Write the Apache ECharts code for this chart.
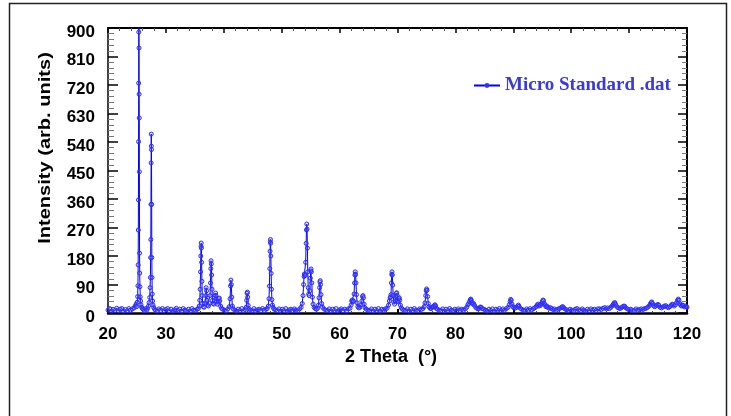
<!DOCTYPE html>
<html>
<head>
<meta charset="utf-8">
<script src="https://cdn.jsdelivr.net/npm/echarts@6/dist/echarts.min.js"></script>
<style>html,body{margin:0;padding:0;background:#fff;}#c{width:731px;height:416px;}</style>
</head>
<body>
<div id="c"></div>
<script>
// [2theta, intensity] pairs, split by range
var seg20_30 = [[20.0,9],[20.3,14],[20.6,6],[20.9,11],[21.2,8],[21.5,15],[21.8,7],[22.1,12],[22.4,14],[22.7,6],[23.0,11],[23.3,7],[23.6,14],[23.9,9],[24.2,13],[24.5,16],[24.7,22],[24.85,28],[24.95,20],[25.05,34],[25.12,52],[25.17,86],[25.21,152],[25.24,262],[25.26,357],[25.28,541],[25.3,726],[25.32,887],[25.34,910],[25.36,837],[25.38,691],[25.4,616],[25.42,446],[25.45,189],[25.48,126],[25.52,83],[25.57,51],[25.63,38],[25.7,26],[25.8,18],[25.95,14],[26.1,11],[26.3,7],[26.5,14],[26.7,9],[26.85,15],[27.0,22],[27.1,33],[27.2,49],[27.27,80],[27.32,112],[27.36,175],[27.39,232],[27.42,343],[27.45,474],[27.47,565],[27.49,527],[27.51,516],[27.54,343],[27.57,175],[27.6,112],[27.64,60],[27.7,38],[27.78,25],[27.9,17],[28.05,12],[28.2,9],[28.5,6],[28.8,13],[29.1,8],[29.4,14],[29.7,7],[30.0,11]];
var seg30_45 = [[30.3,14],[30.6,7],[30.9,12],[31.2,6],[31.5,10],[31.8,15],[32.1,8],[32.4,12],[32.7,6],[33.0,14],[33.3,9],[33.6,7],[33.9,12],[34.2,6],[34.5,14],[34.8,9],[35.1,8],[35.4,12],[35.6,14],[35.75,22],[35.85,40],[35.92,75],[35.98,130],[36.03,180],[36.07,210],[36.1,221],[36.13,205],[36.17,160],[36.22,100],[36.28,55],[36.35,30],[36.45,20],[36.6,18],[36.75,30],[36.88,55],[36.95,80],[37.02,70],[37.1,40],[37.2,25],[37.35,22],[37.5,30],[37.62,55],[37.7,95],[37.76,140],[37.8,165],[37.84,155],[37.9,120],[37.96,75],[38.05,40],[38.15,30],[38.3,28],[38.42,38],[38.52,55],[38.58,63],[38.65,55],[38.75,35],[38.9,28],[39.05,35],[39.15,45],[39.22,47],[39.3,38],[39.45,22],[39.6,15],[39.8,12],[40.1,9],[40.4,6],[40.7,13],[40.95,20],[41.08,45],[41.17,85],[41.23,104],[41.3,90],[41.38,50],[41.48,22],[41.6,13],[41.9,9],[42.2,6],[42.5,12],[42.8,8],[43.1,14],[43.4,7],[43.7,11],[43.85,18],[43.95,40],[44.02,62],[44.07,66],[44.13,50],[44.22,24],[44.35,13],[44.6,9],[44.9,7]];
var seg45_60 = [[45.2,14],[45.5,6],[45.8,10],[46.1,12],[46.4,7],[46.7,14],[47.0,8],[47.3,12],[47.5,14],[47.68,22],[47.8,45],[47.88,85],[47.94,140],[47.99,195],[48.03,225],[48.06,232],[48.09,220],[48.13,180],[48.18,125],[48.24,75],[48.31,42],[48.4,25],[48.5,18],[48.65,13],[48.9,10],[49.2,7],[49.5,13],[49.8,6],[50.1,12],[50.4,8],[50.7,14],[51.0,6],[51.3,10],[51.6,12],[51.9,7],[52.2,13],[52.5,9],[52.8,7],[53.1,13],[53.35,18],[53.55,30],[53.68,55],[53.78,90],[53.86,115],[53.92,123],[53.98,118],[54.06,120],[54.14,160],[54.22,220],[54.28,262],[54.33,281],[54.38,265],[54.44,205],[54.5,130],[54.58,80],[54.66,60],[54.75,55],[54.85,70],[54.95,110],[55.02,133],[55.07,139],[55.12,130],[55.2,95],[55.3,50],[55.42,28],[55.6,18],[55.8,14],[56.0,12],[56.2,15],[56.35,25],[56.45,48],[56.54,80],[56.6,98],[56.65,102],[56.71,90],[56.79,58],[56.9,30],[57.05,18],[57.3,13],[57.6,9],[57.9,7],[58.2,13],[58.5,6],[58.8,12],[59.1,8],[59.4,14],[59.7,6],[60.0,10]];
var seg60_80 = [[60.3,13],[60.6,7],[60.9,12],[61.2,6],[61.5,13],[61.8,15],[61.98,25],[62.1,38],[62.18,41],[62.28,35],[62.4,38],[62.5,60],[62.58,95],[62.64,120],[62.7,130],[62.76,122],[62.83,95],[62.92,58],[63.02,32],[63.15,20],[63.3,16],[63.5,18],[63.7,25],[63.85,38],[63.96,52],[64.04,55],[64.12,48],[64.24,28],[64.4,16],[64.6,12],[64.9,9],[65.2,7],[65.5,13],[65.8,6],[66.1,12],[66.4,8],[66.7,14],[67.0,6],[67.3,12],[67.6,9],[67.9,13],[68.2,15],[68.45,25],[68.6,38],[68.72,48],[68.8,51],[68.88,58],[68.95,95],[69.01,122],[69.05,130],[69.1,120],[69.17,88],[69.25,55],[69.35,35],[69.5,28],[69.62,38],[69.72,52],[69.8,62],[69.86,64],[69.94,55],[70.05,38],[70.15,35],[70.24,45],[70.3,48],[70.38,40],[70.5,25],[70.65,16],[70.85,12],[71.1,9],[71.4,7],[71.7,13],[72.0,6],[72.3,12],[72.6,8],[72.9,14],[73.2,9],[73.5,7],[73.8,13],[74.1,11],[74.4,14],[74.6,20],[74.75,32],[74.87,55],[74.96,70],[75.03,76],[75.1,72],[75.2,52],[75.32,30],[75.45,20],[75.6,15],[75.8,14],[75.95,18],[76.1,20],[76.25,19],[76.38,24],[76.48,26],[76.58,22],[76.7,15],[76.9,12],[77.2,9],[77.5,7],[77.8,13],[78.1,6],[78.4,12],[78.7,8],[79.0,14],[79.3,9],[79.6,7],[79.9,12]];
var seg80_100 = [[80.2,6],[80.5,13],[80.8,8],[81.1,12],[81.4,9],[81.7,13],[81.95,18],[82.15,26],[82.3,30],[82.45,36],[82.58,42],[82.66,44],[82.75,40],[82.88,33],[83.0,28],[83.15,30],[83.3,24],[83.5,18],[83.7,15],[83.9,13],[84.1,15],[84.3,19],[84.45,18],[84.6,14],[84.9,12],[85.2,9],[85.5,6],[85.8,12],[86.1,8],[86.4,13],[86.7,6],[87.0,12],[87.3,9],[87.6,14],[87.9,8],[88.2,13],[88.5,9],[88.8,14],[89.1,18],[89.3,26],[89.45,36],[89.55,43],[89.65,40],[89.78,28],[89.92,20],[90.1,16],[90.3,15],[90.55,18],[90.75,22],[90.88,25],[91.0,21],[91.2,15],[91.45,12],[91.75,9],[92.0,7],[92.3,13],[92.6,9],[92.9,14],[93.2,10],[93.5,14],[93.75,17],[93.95,20],[94.12,25],[94.28,28],[94.42,22],[94.55,25],[94.7,24],[94.85,30],[95.0,36],[95.12,41],[95.22,39],[95.35,30],[95.5,25],[95.65,20],[95.8,22],[95.95,18],[96.15,15],[96.4,17],[96.6,14],[96.85,11],[97.1,13],[97.4,9],[97.7,12],[97.95,14],[98.2,16],[98.4,19],[98.55,20],[98.7,16],[98.9,13],[99.2,10],[99.5,7],[99.8,12]];
var seg100_120 = [[100.1,9],[100.4,7],[100.7,12],[101.0,14],[101.3,10],[101.6,7],[101.9,13],[102.2,9],[102.5,6],[102.8,12],[103.1,8],[103.4,13],[103.7,9],[104.0,12],[104.3,8],[104.6,13],[104.9,13],[105.2,11],[105.5,15],[105.8,17],[106.05,13],[106.3,16],[106.6,14],[106.85,18],[107.05,22],[107.25,27],[107.4,31],[107.52,33],[107.65,28],[107.8,22],[108.0,18],[108.2,16],[108.45,14],[108.7,17],[108.9,20],[109.1,22],[109.25,21],[109.45,16],[109.7,13],[110.0,10],[110.3,12],[110.6,8],[110.9,7],[111.2,13],[111.5,9],[111.8,11],[112.1,13],[112.4,11],[112.7,14],[112.95,15],[113.2,18],[113.45,22],[113.65,28],[113.8,33],[113.92,35],[114.05,30],[114.2,24],[114.4,20],[114.6,22],[114.8,25],[115.0,27],[115.15,24],[115.35,18],[115.6,16],[115.85,19],[116.1,22],[116.35,23],[116.55,19],[116.8,17],[117.05,20],[117.25,24],[117.45,28],[117.6,26],[117.8,22],[118.0,26],[118.2,33],[118.35,40],[118.5,44],[118.62,40],[118.75,30],[118.9,25],[119.05,22],[119.2,25],[119.35,24],[119.55,19],[119.75,22],[119.9,20],[120.0,18]];

var seriesName = 'Micro Standard .dat';
var xTitle = '2 Theta  (\u00B0)';
var yTitle = 'Intensity (arb. units)';

var pattern = [].concat(seg20_30, seg30_45, seg45_60, seg60_80, seg80_100, seg100_120);

var chart = echarts.init(document.getElementById('c'), null, {renderer: 'canvas'});
var labelFont = {fontSize: 17, fontWeight: 'bold', color: '#000', fontFamily: 'Liberation Sans, Arial, sans-serif'};

chart.setOption({
  animation: false,
  backgroundColor: '#fff',
  grid: {left: 108, top: 28, width: 579, height: 285, containLabel: false},
  legend: {
    data: [seriesName], left: 468, top: 71, itemWidth: 26, itemHeight: 6, itemGap: 5,
    itemStyle: {color: '#3030ff', borderWidth: 0},
    textStyle: {fontFamily: 'Liberation Serif, Times New Roman, serif', fontWeight: 'bold', fontSize: 19, color: '#3a3ad8'}
  },
  xAxis: [{
    type: 'value', min: 20, max: 120, interval: 10, position: 'bottom',
    axisLine: {show: true, onZero: false, lineStyle: {color: '#000', width: 2.5}},
    axisTick: {show: true, inside: true, length: 4, lineStyle: {color: '#000', width: 2}},
    minorTick: {show: true, splitNumber: 5, length: 2, lineStyle: {color: '#444', width: 1}},
    splitLine: {show: false},
    axisLabel: Object.assign({margin: 13}, labelFont)
  }, {
    type: 'value', min: 20, max: 120, interval: 10, position: 'top',
    axisLine: {show: true, onZero: false, lineStyle: {color: '#000', width: 2}},
    axisTick: {show: true, inside: true, length: 5, lineStyle: {color: '#000', width: 1.5}},
    minorTick: {show: true, splitNumber: 5, length: 3, lineStyle: {color: '#555', width: 1}},
    splitLine: {show: false}, axisLabel: {show: false}
  }],
  yAxis: [{
    type: 'value', min: 0, max: 900, interval: 90, position: 'left',
    axisLine: {show: true, onZero: false, lineStyle: {color: '#000', width: 1.5}},
    axisTick: {show: true, inside: true, length: 10, lineStyle: {color: '#000', width: 1.5}},
    minorTick: {show: true, splitNumber: 5, length: 6, lineStyle: {color: '#777', width: 1}},
    splitLine: {show: false},
    axisLabel: Object.assign({margin: 13, verticalAlign: 'top', lineHeight: 8}, labelFont)
  }, {
    type: 'value', min: 0, max: 900, interval: 90, position: 'right',
    axisLine: {show: true, onZero: false, lineStyle: {color: '#000', width: 2}},
    axisTick: {show: true, inside: true, length: 9, lineStyle: {color: '#000', width: 1.5}},
    minorTick: {show: true, splitNumber: 5, length: 5, lineStyle: {color: '#777', width: 1}},
    splitLine: {show: false}, axisLabel: {show: false}
  }],
  series: [{
    name: seriesName, type: 'line', xAxisIndex: 0, yAxisIndex: 0,
    data: pattern, clip: true,
    symbol: 'circle', symbolSize: 4, showAllSymbol: true,
    lineStyle: {color: '#0000ff', width: 1},
    itemStyle: {color: 'rgba(120,120,255,0.2)', borderColor: '#2a2aff', borderWidth: 1}
  }],
  graphic: [
    {type: 'rect', left: 7, top: 1, shape: {width: 717, height: 430}, style: {fill: 'none', stroke: '#222', lineWidth: 1.5}, silent: true},
    {type: 'text', x: 45, y: 148, rotation: Math.PI / 2, scaleX: 1.18,
      style: {text: yTitle, fontSize: 17, fontWeight: 'bold', fontFamily: 'Liberation Sans, Arial, sans-serif', fill: '#000', align: 'center', verticalAlign: 'middle'}},
    {type: 'text', x: 391, y: 357,
      style: {text: xTitle, fontSize: 18, fontWeight: 'bold', fontFamily: 'Liberation Sans, Arial, sans-serif', fill: '#000', align: 'center', verticalAlign: 'middle'}}
  ]
});
</script>
</body>
</html>
